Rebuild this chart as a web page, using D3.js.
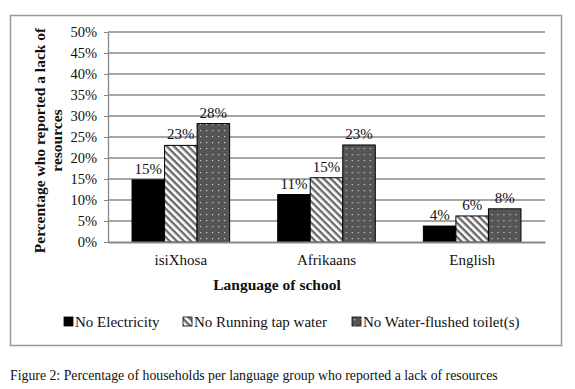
<!DOCTYPE html>
<html>
<head>
<meta charset="utf-8">
<script src="https://cdn.jsdelivr.net/npm/d3@7"></script>
<style>
  body { margin: 0; background: #fff; }
  text { font-family: "Liberation Serif", "Times New Roman", serif; fill: #111; }
</style>
</head>
<body>
<svg id="drawing_region"></svg>
<script>
const languages = ["isiXhosa", "Afrikaans", "English"];
const series = ["No Electricity", "No Running tap water", "No Water-flushed toilet(s)"];
const noElectricity = [14.8, 11.3, 3.8];
const noTapWater = [23.0, 15.3, 6.2];
const noToilet = [28.2, 23.1, 7.9];
const yTicks = [0, 5, 10, 15, 20, 25, 30, 35, 40, 45, 50];

const values = [noElectricity, noTapWater, noToilet];
const data = languages.map((lang, i) => ({
    label: lang,
    values: series.map((s, j) => ({ key: s, value: values[j][i] }))
}));

const config = {
    width: 575,
    height: 389,
    margin: { top: 32, right: 30, bottom: 147, left: 108 }
};

const svg = d3.select('#drawing_region')
    .attr('width', config.width)
    .attr('height', config.height);

// patterns
const defs = svg.append('defs');
const stripe = defs.append('pattern')
    .attr('id', 'stripe')
    .attr('patternUnits', 'userSpaceOnUse')
    .attr('width', 5).attr('height', 5)
    .attr('patternTransform', 'rotate(45)');
stripe.append('rect').attr('width', 5).attr('height', 5).attr('fill', '#fff');
stripe.append('rect').attr('width', 5).attr('height', 2.4).attr('fill', '#6a6a6a');

const dots = defs.append('pattern')
    .attr('id', 'dots')
    .attr('patternUnits', 'userSpaceOnUse')
    .attr('width', 6).attr('height', 6);
dots.append('rect').attr('width', 6).attr('height', 6).attr('fill', '#555');
dots.append('rect').attr('x', 2).attr('y', 2).attr('width', 1.2).attr('height', 1.2).attr('fill', '#ccc');

const fills = d3.scaleOrdinal()
    .domain(series)
    .range(['#000', 'url(#stripe)', 'url(#dots)']);

// outer frame
svg.append('rect')
    .attr('x', 10.5).attr('y', 15.5)
    .attr('width', 551).attr('height', 330)
    .attr('fill', 'none')
    .attr('stroke', '#999')
    .attr('stroke-width', 1.5);

const inner_width = config.width - config.margin.left - config.margin.right;
const inner_height = config.height - config.margin.top - config.margin.bottom;

const chart = svg.append('g')
    .attr('transform', `translate(${config.margin.left}, ${config.margin.top})`);

const xscale = d3.scaleBand()
    .domain(languages)
    .range([0, inner_width])
    .paddingInner(0.33)
    .paddingOuter(0.165);

const inner = d3.scaleBand()
    .domain(series)
    .range([0, xscale.bandwidth()]);

const yscale = d3.scaleLinear()
    .domain([0, 50])
    .range([inner_height, 0]);

// gridlines
chart.append('g')
    .selectAll('line')
    .data(yTicks.filter(d => d > 0))
    .join('line')
    .attr('x1', 0).attr('x2', inner_width)
    .attr('y1', d => yscale(d)).attr('y2', d => yscale(d))
    .attr('stroke', '#888')
    .attr('stroke-width', 1.3);

// y axis
const yaxis = d3.axisLeft(yscale)
    .tickValues(yTicks)
    .tickFormat(d => d + '%')
    .tickSize(4)
    .tickPadding(7)
    .tickSizeOuter(0);
const yaxis_group = chart.append('g').call(yaxis);
yaxis_group.select('.domain').attr('stroke', '#888').attr('stroke-width', 1.3);
yaxis_group.selectAll('.tick line').attr('stroke', '#888');
yaxis_group.selectAll('text')
    .style('font-size', '14.5px')
    .style('font-family', '"Liberation Serif", serif')
    .attr('fill', '#111');

// bars
const groups = chart.selectAll('.group')
    .data(data)
    .join('g')
    .attr('transform', d => `translate(${xscale(d.label)}, 0)`);

groups.selectAll('rect')
    .data(d => d.values)
    .join('rect')
    .attr('x', d => inner(d.key))
    .attr('y', d => yscale(d.value))
    .attr('width', inner.bandwidth())
    .attr('height', d => inner_height - yscale(d.value))
    .attr('fill', d => fills(d.key))
    .attr('stroke', '#000')
    .attr('stroke-width', 1);

groups.selectAll('.lbl')
    .data(d => d.values)
    .join('text')
    .attr('class', 'lbl')
    .attr('x', d => inner(d.key) + inner.bandwidth() / 2)
    .attr('y', d => yscale(d.value) - 6)
    .attr('text-anchor', 'middle')
    .style('font-size', '15px')
    .text(d => Math.round(d.value) + '%');

// x axis
const xaxis = d3.axisBottom(xscale).tickSize(0).tickPadding(12).tickSizeOuter(0);
const xaxis_group = chart.append('g')
    .attr('transform', `translate(0, ${inner_height})`)
    .call(xaxis);
xaxis_group.select('.domain').attr('stroke', '#888').attr('stroke-width', 2);
xaxis_group.selectAll('text')
    .style('font-size', '15px')
    .style('font-family', '"Liberation Serif", serif')
    .attr('fill', '#111');

// axis titles
svg.append('text')
    .attr('x', 277).attr('y', 290)
    .attr('text-anchor', 'middle')
    .style('font-size', '15.5px')
    .style('font-weight', 'bold')
    .text('Language of school');

const ytitle = svg.append('text')
    .attr('transform', 'translate(45, 140.5) rotate(-90)')
    .attr('text-anchor', 'middle')
    .style('font-size', '15.5px')
    .style('font-weight', 'bold');
ytitle.append('tspan').attr('x', 0).attr('dy', 0).text('Percentage who reported a lack of');
ytitle.append('tspan').attr('x', 0).attr('dy', 17).text('resources');

// legend
const legendX = [64, 183, 352];
const legend = svg.append('g').selectAll('g')
    .data(series)
    .join('g')
    .attr('transform', (d, i) => `translate(${legendX[i]}, 317)`);
legend.append('rect')
    .attr('width', 9).attr('height', 9)
    .attr('fill', d => fills(d))
    .attr('stroke', '#000')
    .attr('stroke-width', 0.8);
legend.append('text')
    .attr('x', 11).attr('y', 10)
    .style('font-size', '15px')
    .text(d => d);

// caption
svg.append('text')
    .attr('x', 10).attr('y', 380)
    .style('font-size', '13.8px')
    .text('Figure 2: Percentage of households per language group who reported a lack of resources');
</script>
</body>
</html>
